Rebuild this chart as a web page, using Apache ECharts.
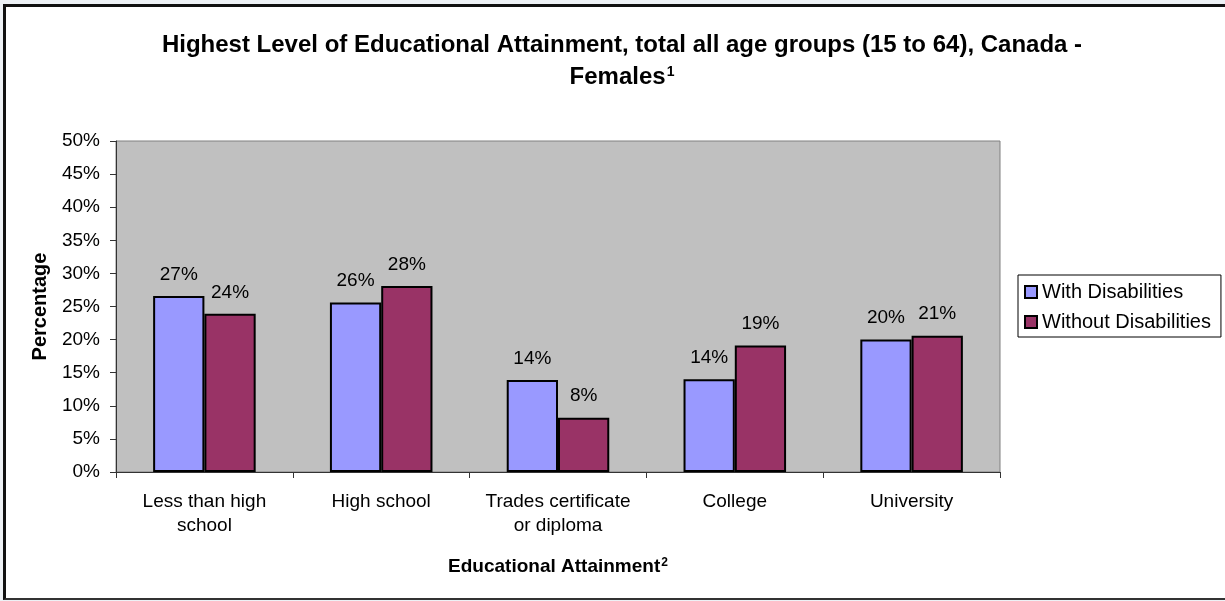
<!DOCTYPE html>
<html>
<head>
<meta charset="utf-8">
<script src="https://cdn.jsdelivr.net/npm/echarts@6/dist/echarts.min.js"></script>
<style>
  html, body { margin: 0; padding: 0; width: 1225px; height: 601px; overflow: hidden; background: #edf1f5; }
  #frame { position: absolute; left: 3px; top: 4px; width: 1240px; height: 596px; box-sizing: border-box;
           border-top: 3px solid #111; border-left: 3px solid #111; border-bottom: 2px solid #333; background: #fff; }
  #chart { position: absolute; left: 0; top: 0; width: 1225px; height: 601px; }
</style>
</head>
<body>
<div id="frame"></div>
<div id="chart"></div>
<script>
// Education levels (x axis)
var categories = ['Less than high\nschool', 'High school', 'Trades certificate\nor diploma', 'College', 'University'];
// Share of females aged 15 to 64, in percent
var withDisabilities = [26.6, 25.6, 13.9, 14.0, 20.0];
var withoutDisabilities = [23.9, 28.1, 8.2, 19.1, 20.6];
var seriesNames = ['With Disabilities', 'Without Disabilities'];

var FONT = "'Liberation Sans', Arial, sans-serif";

var chart = echarts.init(document.getElementById('chart'), null, { renderer: 'canvas' });

function pctLabel(p) { return Math.round(p.value) + '%'; }

chart.setOption({
  backgroundColor: 'transparent',
  animation: false,
  textStyle: { fontFamily: FONT, color: '#000' },
  title: {
    text: '{t|Highest Level of Educational Attainment, total all age groups (15 to 64), Canada -}\n{t|Females}{s|1}',
    left: 617,
    textAlign: 'center',
    top: 24,
    textStyle: {
      fontFamily: FONT, fontSize: 24, fontWeight: 'bold', color: '#000', lineHeight: 32,
      rich: {
        t: { fontFamily: FONT, fontSize: 24, fontWeight: 'bold', color: '#000', lineHeight: 32 },
        s: { fontFamily: FONT, fontSize: 14, fontWeight: 'bold', color: '#000', lineHeight: 14, verticalAlign: 'top', padding: [4, 0, 0, 1] }
      }
    }
  },
  legend: {
    orient: 'vertical',
    left: 1018,
    top: 275,
    padding: [7, 10, 5, 6],
    itemGap: 10,
    itemWidth: 12,
    itemHeight: 12,
    borderColor: '#000',
    borderWidth: 1,
    icon: 'rect',
    textStyle: { fontFamily: FONT, fontSize: 20, color: '#000' },
    data: seriesNames
  },
  grid: {
    left: 116, right: 225, top: 141, bottom: 129,
    show: true,
    backgroundColor: '#c0c0c0',
    borderColor: '#808080',
    borderWidth: 1
  },
  xAxis: {
    type: 'category',
    data: categories,
    name: '{n|Educational Attainment}{s|2}',
    nameLocation: 'middle',
    nameGap: 83,
    nameTextStyle: {
      fontFamily: FONT, fontSize: 19, fontWeight: 'bold', color: '#000',
      rich: {
        n: { fontFamily: FONT, fontSize: 19, fontWeight: 'bold', color: '#000', lineHeight: 24 },
        s: { fontFamily: FONT, fontSize: 12, fontWeight: 'bold', color: '#000', lineHeight: 12, verticalAlign: 'top', padding: [2, 0, 0, 1] }
      }
    },
    axisLine: { lineStyle: { color: '#333', width: 1 } },
    axisTick: { show: true, alignWithLabel: false, length: 6, lineStyle: { color: '#333' } },
    axisLabel: { fontFamily: FONT, fontSize: 19, color: '#000', lineHeight: 24, margin: 18, interval: 0 },
    splitLine: { show: false }
  },
  yAxis: {
    type: 'value',
    min: 0, max: 50, interval: 5,
    name: 'Percentage',
    nameLocation: 'middle',
    nameRotate: 90,
    nameGap: 66,
    nameTextStyle: { fontFamily: FONT, fontSize: 20, fontWeight: 'bold', color: '#000' },
    axisLine: { show: true, lineStyle: { color: '#333', width: 1 } },
    axisTick: { show: true, length: 6, lineStyle: { color: '#333' } },
    axisLabel: { fontFamily: FONT, fontSize: 19, color: '#000', margin: 16, formatter: '{value}%' },
    splitLine: { show: false }
  },
  series: [
    {
      name: seriesNames[0],
      type: 'bar',
      data: withDisabilities,
      barGap: '0%',
      barCategoryGap: '42%',
      itemStyle: { color: '#9999ff', borderColor: '#000', borderWidth: 2 },
      label: { show: true, position: 'top', distance: 12, fontFamily: FONT, fontSize: 19, color: '#000', formatter: pctLabel }
    },
    {
      name: seriesNames[1],
      type: 'bar',
      data: withoutDisabilities,
      barGap: '0%',
      barCategoryGap: '42%',
      itemStyle: { color: '#993366', borderColor: '#000', borderWidth: 2 },
      label: { show: true, position: 'top', distance: 12, fontFamily: FONT, fontSize: 19, color: '#000', formatter: pctLabel }
    }
  ]
});
</script>
</body>
</html>
